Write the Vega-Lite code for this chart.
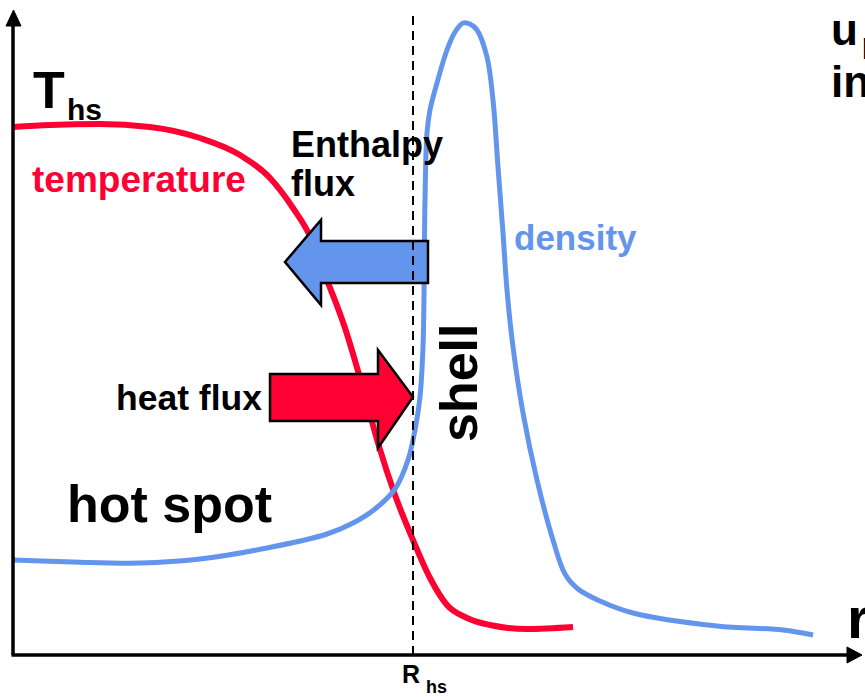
{
  "$schema": "https://vega.github.io/schema/vega-lite/v6.json",
  "width": 865,
  "height": 697,
  "autosize": "none",
  "padding": 0,
  "background": "white",
  "config": {"view": {"stroke": null}},
  "datasets": {
    "temperature": [
      {"i": 0, "r": 0, "v": 528}, {"i": 1, "r": 37, "v": 530}, {"i": 2, "r": 87, "v": 531},
      {"i": 3, "r": 137, "v": 528}, {"i": 4, "r": 187, "v": 517}, {"i": 5, "r": 227, "v": 500},
      {"i": 6, "r": 257, "v": 477}, {"i": 7, "r": 280, "v": 447}, {"i": 8, "r": 297, "v": 419},
      {"i": 9, "r": 314, "v": 375}, {"i": 10, "r": 332, "v": 327}, {"i": 11, "r": 349, "v": 270},
      {"i": 12, "r": 365, "v": 212}, {"i": 13, "r": 382, "v": 160}, {"i": 14, "r": 400, "v": 115},
      {"i": 15, "r": 417, "v": 77}, {"i": 16, "r": 434, "v": 50}, {"i": 17, "r": 454, "v": 37},
      {"i": 18, "r": 477, "v": 30}, {"i": 19, "r": 514, "v": 26}, {"i": 20, "r": 560, "v": 28}
    ],
    "density": [
      {"i": 0, "r": 0, "v": 95}, {"i": 1, "r": 60, "v": 93}, {"i": 2, "r": 127, "v": 92},
      {"i": 3, "r": 187, "v": 96}, {"i": 4, "r": 254, "v": 107}, {"i": 5, "r": 314, "v": 121},
      {"i": 6, "r": 340, "v": 132}, {"i": 7, "r": 362, "v": 146},
      {"i": 9, "r": 382, "v": 166}, {"i": 10, "r": 395, "v": 195}, {"i": 11, "r": 402, "v": 225},
      {"i": 12, "r": 407, "v": 258}, {"i": 13, "r": 410, "v": 308}, {"i": 14, "r": 411, "v": 358},
      {"i": 15, "r": 411.5, "v": 415}, {"i": 16, "r": 412, "v": 455}, {"i": 17, "r": 414, "v": 522},
      {"i": 18, "r": 417, "v": 545}, {"i": 19, "r": 424, "v": 572}, {"i": 20, "r": 434, "v": 605},
      {"i": 21, "r": 442, "v": 623}, {"i": 22, "r": 450, "v": 632}, {"i": 23, "r": 457, "v": 631},
      {"i": 24, "r": 464, "v": 625}, {"i": 25, "r": 474, "v": 598}, {"i": 26, "r": 480, "v": 555},
      {"i": 27, "r": 485, "v": 488}, {"i": 28, "r": 490, "v": 422}, {"i": 29, "r": 494, "v": 365},
      {"i": 30, "r": 500, "v": 308}, {"i": 31, "r": 510, "v": 242}, {"i": 32, "r": 524, "v": 175},
      {"i": 33, "r": 540, "v": 115}, {"i": 34, "r": 552, "v": 81}, {"i": 35, "r": 565, "v": 66},
      {"i": 36, "r": 587, "v": 54}, {"i": 37, "r": 620, "v": 42},
      {"i": 39, "r": 704, "v": 29}, {"i": 40, "r": 770, "v": 25}, {"i": 41, "r": 800, "v": 20}
    ],
    "enthalpyArrow": [
      {"i": 0, "r": 272, "v": 393}, {"i": 1, "r": 308, "v": 435}, {"i": 2, "r": 308, "v": 414},
      {"i": 3, "r": 415, "v": 414}, {"i": 4, "r": 415, "v": 372}, {"i": 5, "r": 308, "v": 372},
      {"i": 6, "r": 308, "v": 350}
    ],
    "heatArrow": [
      {"i": 0, "r": 257, "v": 281}, {"i": 1, "r": 365, "v": 281}, {"i": 2, "r": 365, "v": 305},
      {"i": 3, "r": 400, "v": 258}, {"i": 4, "r": 365, "v": 207}, {"i": 5, "r": 365, "v": 234},
      {"i": 6, "r": 257, "v": 234}
    ],
    "yHead": [
      {"i": 0, "r": 0.5, "v": 645}, {"i": 1, "r": 8, "v": 629}, {"i": 2, "r": -7, "v": 629}
    ],
    "xHead": [
      {"i": 0, "r": 849, "v": 0}, {"i": 1, "r": 834, "v": -8}, {"i": 2, "r": 834, "v": 8}
    ]
  },
  "encoding": {
    "x": {"type": "quantitative", "scale": {"domain": [-13, 852], "nice": false, "zero": false}, "axis": null},
    "y": {"type": "quantitative", "scale": {"domain": [-42, 655], "nice": false, "zero": false}, "axis": null}
  },
  "layer": [
    {
      "data": {"name": "temperature"},
      "mark": {"type": "line", "stroke": "#FF0033", "strokeWidth": 6, "interpolate": "monotone", "strokeCap": "butt"},
      "encoding": {"x": {"field": "r"}, "y": {"field": "v"}, "order": {"field": "i"}}
    },
    {
      "data": {"name": "density"},
      "mark": {"type": "line", "stroke": "#6495ED", "strokeWidth": 5, "interpolate": "catmull-rom", "strokeCap": "butt"},
      "encoding": {"x": {"field": "r"}, "y": {"field": "v"}, "order": {"field": "i"}}
    },
    {
      "data": {"name": "enthalpyArrow"},
      "mark": {"type": "line", "filled": true, "fill": "#6495ED", "stroke": "black", "strokeWidth": 2.5, "interpolate": "linear-closed", "strokeJoin": "miter"},
      "encoding": {"x": {"field": "r"}, "y": {"field": "v"}, "order": {"field": "i"}}
    },
    {
      "data": {"name": "heatArrow"},
      "mark": {"type": "line", "filled": true, "fill": "#FF0033", "stroke": "black", "strokeWidth": 2.5, "interpolate": "linear-closed", "strokeJoin": "miter"},
      "encoding": {"x": {"field": "r"}, "y": {"field": "v"}, "order": {"field": "i"}}
    },
    {
      "data": {"values": [{"r": 400, "v": 0, "v2": 640}]},
      "mark": {"type": "rule", "stroke": "black", "strokeWidth": 2, "strokeDash": [9, 6]},
      "encoding": {"x": {"field": "r"}, "y": {"field": "v"}, "y2": {"field": "v2"}}
    },
    {
      "data": {"values": [{"r": 0, "v": 0, "v2": 632}]},
      "mark": {"type": "rule", "stroke": "black", "strokeWidth": 3.5},
      "encoding": {"x": {"field": "r"}, "y": {"field": "v"}, "y2": {"field": "v2"}}
    },
    {
      "data": {"values": [{"r": -1.5, "r2": 836, "v": 0}]},
      "mark": {"type": "rule", "stroke": "black", "strokeWidth": 3.5},
      "encoding": {"x": {"field": "r"}, "x2": {"field": "r2"}, "y": {"field": "v"}}
    },
    {
      "data": {"name": "yHead"},
      "mark": {"type": "line", "filled": true, "fill": "black", "stroke": "black", "strokeWidth": 1, "interpolate": "linear-closed"},
      "encoding": {"x": {"field": "r"}, "y": {"field": "v"}, "order": {"field": "i"}}
    },
    {
      "data": {"name": "xHead"},
      "mark": {"type": "line", "filled": true, "fill": "black", "stroke": "black", "strokeWidth": 1, "interpolate": "linear-closed"},
      "encoding": {"x": {"field": "r"}, "y": {"field": "v"}, "order": {"field": "i"}}
    },
    {
      "data": {"values": [{"label": "T", "r": 20, "v": 547}]},
      "mark": {"type": "text", "font": "Liberation Sans", "fontWeight": "bold", "fontSize": 52, "align": "left", "baseline": "alphabetic", "color": "black"},
      "encoding": {"x": {"field": "r"}, "y": {"field": "v"}, "text": {"field": "label"}}
    },
    {
      "data": {"values": [{"label": "hs", "r": 54, "v": 535}]},
      "mark": {"type": "text", "font": "Liberation Sans", "fontWeight": "bold", "fontSize": 30, "align": "left", "baseline": "alphabetic", "color": "black"},
      "encoding": {"x": {"field": "r"}, "y": {"field": "v"}, "text": {"field": "label"}}
    },
    {
      "data": {"values": [{"label": "hs", "r": 413, "v": -38}]},
      "mark": {"type": "text", "font": "Liberation Sans", "fontWeight": "bold", "fontSize": 18, "align": "left", "baseline": "alphabetic", "color": "black"},
      "encoding": {"x": {"field": "r"}, "y": {"field": "v"}, "text": {"field": "label"}}
    },
    {
      "data": {"values": [{"label": "temperature", "r": 19, "v": 463}]},
      "mark": {"type": "text", "font": "Liberation Sans", "fontWeight": "bold", "fontSize": 37, "align": "left", "baseline": "alphabetic", "color": "#FF0033"},
      "encoding": {"x": {"field": "r"}, "y": {"field": "v"}, "text": {"field": "label"}}
    },
    {
      "data": {"values": [{"label": "Enthalpy", "r": 278, "v": 498}, {"label": "flux", "r": 278, "v": 459}]},
      "mark": {"type": "text", "font": "Liberation Sans", "fontWeight": "bold", "fontSize": 36, "align": "left", "baseline": "alphabetic", "color": "black"},
      "encoding": {"x": {"field": "r"}, "y": {"field": "v"}, "text": {"field": "label"}}
    },
    {
      "data": {"values": [{"label": "heat flux", "r": 103, "v": 245}]},
      "mark": {"type": "text", "font": "Liberation Sans", "fontWeight": "bold", "fontSize": 35.5, "align": "left", "baseline": "alphabetic", "color": "black"},
      "encoding": {"x": {"field": "r"}, "y": {"field": "v"}, "text": {"field": "label"}}
    },
    {
      "data": {"values": [{"label": "density", "r": 501, "v": 405}]},
      "mark": {"type": "text", "font": "Liberation Sans", "fontWeight": "bold", "fontSize": 35, "align": "left", "baseline": "alphabetic", "color": "#6495ED"},
      "encoding": {"x": {"field": "r"}, "y": {"field": "v"}, "text": {"field": "label"}}
    },
    {
      "data": {"values": [{"label": "hot spot", "r": 54, "v": 133}]},
      "mark": {"type": "text", "font": "Liberation Sans", "fontWeight": "bold", "fontSize": 52, "align": "left", "baseline": "alphabetic", "color": "black"},
      "encoding": {"x": {"field": "r"}, "y": {"field": "v"}, "text": {"field": "label"}}
    },
    {
      "data": {"values": [{"label": "shell", "r": 464, "v": 213}]},
      "mark": {"type": "text", "font": "Liberation Sans", "fontWeight": "bold", "fontSize": 52, "align": "left", "baseline": "alphabetic", "angle": 270, "color": "black"},
      "encoding": {"x": {"field": "r"}, "y": {"field": "v"}, "text": {"field": "label"}}
    },
    {
      "data": {"values": [{"label": "R", "r": 389, "v": -28}]},
      "mark": {"type": "text", "font": "Liberation Sans", "fontWeight": "bold", "fontSize": 25, "align": "left", "baseline": "alphabetic", "color": "black"},
      "encoding": {"x": {"field": "r"}, "y": {"field": "v"}, "text": {"field": "label"}}
    },
    {
      "data": {"values": [{"label": "r", "r": 834, "v": 17}]},
      "mark": {"type": "text", "font": "Liberation Sans", "fontWeight": "bold", "fontSize": 58, "align": "left", "baseline": "alphabetic", "color": "black"},
      "encoding": {"x": {"field": "r"}, "y": {"field": "v"}, "text": {"field": "label"}}
    },
    {
      "data": {"values": [{"label": "u", "r": 818, "v": 610}, {"label": "in", "r": 818, "v": 558}]},
      "mark": {"type": "text", "font": "Liberation Sans", "fontWeight": "bold", "fontSize": 44, "align": "left", "baseline": "alphabetic", "color": "black"},
      "encoding": {"x": {"field": "r"}, "y": {"field": "v"}, "text": {"field": "label"}}
    },
    {
      "data": {"values": [{"label": "p", "r": 849, "v": 602}]},
      "mark": {"type": "text", "font": "Liberation Sans", "fontWeight": "bold", "fontSize": 28, "align": "left", "baseline": "alphabetic", "color": "black"},
      "encoding": {"x": {"field": "r"}, "y": {"field": "v"}, "text": {"field": "label"}}
    }
  ]
}
